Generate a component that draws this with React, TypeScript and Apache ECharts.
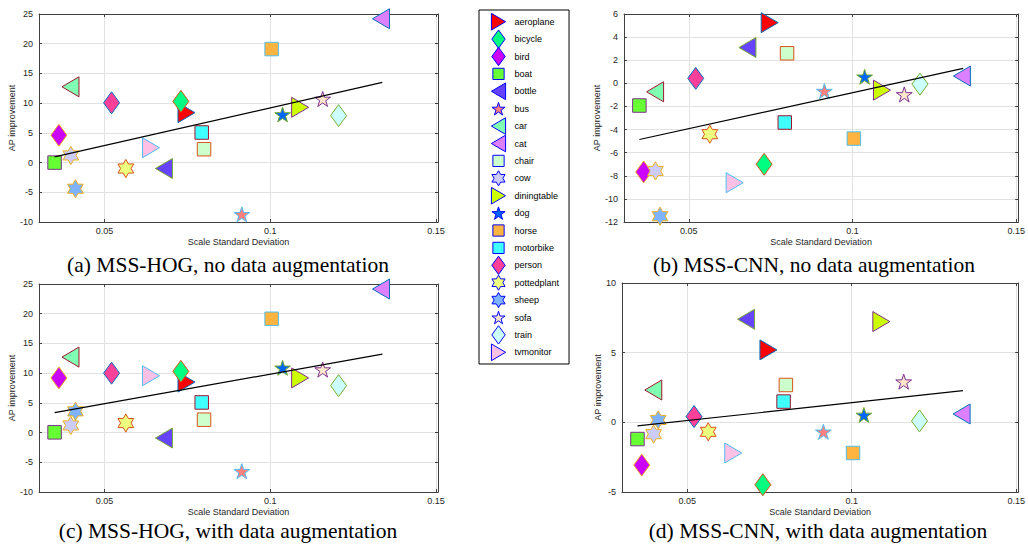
import React, { useEffect, useRef } from 'react';
import * as echarts from 'echarts';

// ---------------- data ----------------
const classes = [
  'aeroplane', 'bicycle', 'bird', 'boat', 'bottle', 'bus', 'car', 'cat', 'chair', 'cow',
  'diningtable', 'dog', 'horse', 'motorbike', 'person', 'pottedplant', 'sheep', 'sofa', 'train', 'tvmonitor',
];
const markerShapes = ['>', 'd', 'd', 's', '<', 'p', '<', '<', 's', 'h', '>', 'p', 's', 's', 'd', 'h', 'h', 'p', 'd', '>'];
const fillColors = [
  '#ff0000', '#00ff80', '#cc00ff', '#66ff33', '#6644ff', '#ff8080', '#80ffb3', '#dd80ff', '#ccffcc', '#ccccff',
  '#ccff00', '#0066ff', '#ffb340', '#40ffff', '#ff4099', '#eeff80', '#80b3ff', '#ffe6cc', '#ccffff', '#ffc0e6',
];
const edgeColorCycle = ['#0072BD', '#D95319', '#EDB120', '#7E2F8E', '#77AC30', '#4DBEEE', '#A2142F'];

const scaleStd = [
  0.0747, 0.0730, 0.0362, 0.0349, 0.0679, 0.0914, 0.0397, 0.1334, 0.0800, 0.0398,
  0.1090, 0.1037, 0.1004, 0.0793, 0.0521, 0.0564, 0.0412, 0.1158, 0.1206, 0.0640,
];
const apHogNoAug = [8.4, 10.3, 4.6, 0.0, -1.0, -8.7, 12.75, 24.2, 2.25, 1.2, 9.3, 8.1, 19.1, 5.06, 10.06, -1.0, -4.4, 10.7, 7.9, 2.5];
const apCnnNoAug = [5.25, -7.0, -7.67, -1.92, 3.1, -0.67, -0.73, 0.63, 2.6, -7.58, -0.59, 0.57, -4.78, -3.39, 0.43, -4.4, -11.5, -0.96, -0.07, -8.6];
const apHogAug = [8.5, 10.3, 9.2, 0.04, -0.92, -6.5, 12.7, 24.15, 2.17, 1.2, 9.2, 10.9, 19.15, 5.07, 10.0, 1.6, 3.57, 10.6, 7.9, 9.56];
const apCnnAug = [5.2, -4.48, -3.07, -1.2, 7.4, -0.68, 2.32, 0.6, 2.68, -0.85, 7.23, 0.53, -2.2, 1.49, 0.41, -0.68, 0.17, 2.92, 0.1, -2.2];

const fitX = [0.0349, 0.1338];
const fitHogNoAug = [0.96, 13.5];
const fitCnnNoAug = [-4.86, 1.29];
const fitHogAug = [3.35, 13.2];
const fitCnnAug = [-0.26, 2.27];

const panelTitles = [
  '(a) MSS-HOG, no data augmentation',
  '(b) MSS-CNN, no data augmentation',
  '(c) MSS-HOG, with data augmentation',
  '(d) MSS-CNN, with data augmentation',
];
const xTicks = [0.05, 0.1, 0.15];
const xMin = 0.0302;
const xMax = 0.1506;
const yMin = [-10, -12, -10, -5];
const yMax = [25, 6, 25, 10];
const yStep = [5, 2, 5, 5];
const xName = 'Scale Standard Deviation';
const yName = 'AP improvement';

const panelValues = [apHogNoAug, apCnnNoAug, apHogAug, apCnnAug];
const panelFits = [fitHogNoAug, fitCnnNoAug, fitHogAug, fitCnnAug];

// ---------------- layout ----------------
const grids = [
  { left: 39, top: 14, width: 399, height: 208 },
  { left: 624, top: 14, width: 398, height: 208 },
  { left: 39, top: 284, width: 399, height: 208 },
  { left: 622, top: 283, width: 400, height: 209 },
];
const captionPos = [
  [228, 265],
  [814, 265],
  [228, 531],
  [818, 531],
];

// marker geometry in a 24x24 box (corner points fix the bounding box)
const BOX = ' M0 0L0 0 M24 24L24 24';
function poly(pts: number[][]) {
  return 'path://M' + pts.map((p) => p[0].toFixed(3) + ' ' + p[1].toFixed(3)).join('L') + 'Z' + BOX;
}
function star(n: number, R: number, r: number, cy: number) {
  const pts: number[][] = [];
  for (let k = 0; k < 2 * n; k++) {
    const a = -Math.PI / 2 + (k * Math.PI) / n;
    const rad = k % 2 === 0 ? R : r;
    pts.push([12 + rad * Math.cos(a), cy + rad * Math.sin(a)]);
  }
  return poly(pts);
}
const shapePaths: Record<string, string> = {
  '>': poly([[3.5, 2], [20.5, 12], [3.5, 22]]),
  '<': poly([[20.5, 2], [3.5, 12], [20.5, 22]]),
  d: poly([[12, 1], [20, 12], [12, 23], [4, 12]]),
  s: poly([[5.25, 5.25], [18.75, 5.25], [18.75, 18.75], [5.25, 18.75]]),
  p: star(5, 8.3, 8.3 * 0.382, 12.8),
  h: star(6, 9.1, 9.1 / Math.sqrt(3), 12),
};

const FONT = 'Liberation Sans';
const AXIS_COLOR = '#404040';
const TEXT_COLOR = '#262626';

function buildOption() {
  const xAxis: any[] = [];
  const yAxis: any[] = [];
  for (let p = 0; p < 4; p++) {
    xAxis.push({
      type: 'value', gridIndex: p, position: 'bottom', min: xMin, max: xMax,
      axisLine: { show: true, onZero: false, lineStyle: { color: AXIS_COLOR, width: 1 } },
      axisTick: { show: true, inside: true, length: 3, customValues: xTicks, lineStyle: { color: AXIS_COLOR } },
      axisLabel: { customValues: xTicks, fontSize: 9, color: TEXT_COLOR, margin: 4, fontFamily: FONT },
      splitLine: { show: true, lineStyle: { color: '#e2e2e2', width: 1 } },
      name: xName, nameLocation: 'middle', nameGap: 15,
      nameTextStyle: { fontSize: 9, color: TEXT_COLOR, fontFamily: FONT },
    });
  }
  for (let p = 0; p < 4; p++) {
    xAxis.push({
      type: 'value', gridIndex: p, position: 'top', min: xMin, max: xMax,
      axisLine: { show: true, onZero: false, lineStyle: { color: AXIS_COLOR, width: 1 } },
      axisTick: { show: true, inside: true, length: 3, customValues: xTicks, lineStyle: { color: AXIS_COLOR } },
      axisLabel: { show: false, customValues: xTicks },
      splitLine: { show: false },
    });
  }
  for (let p = 0; p < 4; p++) {
    yAxis.push({
      type: 'value', gridIndex: p, position: 'left', min: yMin[p], max: yMax[p], interval: yStep[p],
      axisLine: { show: true, onZero: false, lineStyle: { color: AXIS_COLOR, width: 1 } },
      axisTick: { show: true, inside: true, length: 3, lineStyle: { color: AXIS_COLOR } },
      axisLabel: { fontSize: 9, color: TEXT_COLOR, margin: 6, fontFamily: FONT },
      splitLine: { show: true, lineStyle: { color: '#e2e2e2', width: 1 } },
      name: yName, nameLocation: 'middle', nameGap: 19.5,
      nameTextStyle: { fontSize: 9, color: TEXT_COLOR, fontFamily: FONT },
    });
  }
  for (let p = 0; p < 4; p++) {
    yAxis.push({
      type: 'value', gridIndex: p, position: 'right', min: yMin[p], max: yMax[p], interval: yStep[p],
      axisLine: { show: true, onZero: false, lineStyle: { color: AXIS_COLOR, width: 1 } },
      axisTick: { show: true, inside: true, length: 3, lineStyle: { color: AXIS_COLOR } },
      axisLabel: { show: false },
      splitLine: { show: false },
    });
  }

  const series: any[] = [];
  for (let p = 0; p < 4; p++) {
    const vals = panelValues[p];
    classes.forEach((cls, i) => {
      series.push({
        type: 'scatter', name: cls, xAxisIndex: p, yAxisIndex: p,
        symbol: shapePaths[markerShapes[i]], symbolSize: 24,
        itemStyle: { color: fillColors[i], borderColor: edgeColorCycle[i % edgeColorCycle.length], borderWidth: 1, opacity: 1 },
        emphasis: { disabled: true },
        z: 2,
        data: [[scaleStd[i], vals[i]]],
      });
    });
    series.push({
      type: 'line', name: 'fit' + p, xAxisIndex: p, yAxisIndex: p,
      symbol: 'none', silent: true, z: 4,
      lineStyle: { color: '#000000', width: 1.2 },
      data: fitX.map((x, k) => [x, panelFits[p][k]]),
    });
  }

  return {
    animation: false,
    textStyle: { fontFamily: FONT },
    grid: grids.map((g) => ({ ...g, show: false, containLabel: false })),
    xAxis,
    yAxis,
    legend: {
      orient: 'vertical', left: 479, top: 10,
      padding: [1.2, 10, 1.2, 9],
      itemWidth: 22, itemHeight: 20, itemGap: -3.6, itemTextGap: 5,
      backgroundColor: '#ffffff', borderColor: '#000000', borderWidth: 1, borderRadius: 0,
      selectedMode: false,
      textStyle: { fontSize: 9, color: '#000000', fontFamily: FONT },
      itemStyle: { borderColor: '#0000ff', borderWidth: 1 },
      data: classes.map((cls, i) => ({
        name: cls,
        icon: shapePaths[markerShapes[i]],
        itemStyle: { color: fillColors[i], borderColor: '#0000ff', borderWidth: 1 },
      })),
    },
    graphic: panelTitles.map((t, i) => ({
      type: 'text', x: captionPos[i][0], y: captionPos[i][1], silent: true,
      style: {
        text: t, fill: '#000000', fontSize: 21.5, fontFamily: 'Liberation Serif',
        textAlign: 'center', textVerticalAlign: 'middle',
      },
    })),
    series,
  };
}

export default function App() {
  const ref = useRef<HTMLDivElement>(null);
  useEffect(() => {
    if (!ref.current) return;
    const chart = echarts.init(ref.current, null, { renderer: 'svg' });
    chart.setOption(buildOption() as any);
    return () => chart.dispose();
  }, []);
  return (
    <div
      ref={ref}
      style={{ position: 'fixed', left: 0, top: 0, width: 1028, height: 544, background: '#ffffff' }}
    />
  );
}
